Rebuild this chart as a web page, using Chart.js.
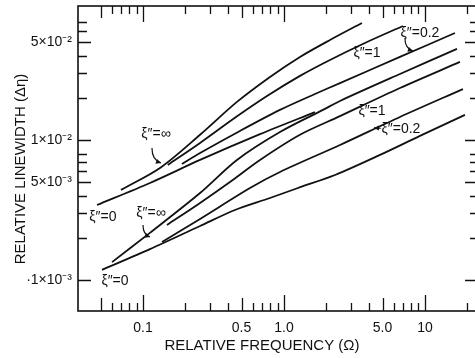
<!DOCTYPE html>
<html><head><meta charset="utf-8">
<script src="https://cdn.jsdelivr.net/npm/chart.js@4/dist/chart.umd.min.js"></script>
<style>html,body{margin:0;padding:0;background:#fff;overflow:hidden}</style>
</head><body>
<canvas id="c" width="480" height="358" style="display:block"></canvas>
<script>
// ---- data (relative frequency Ω, relative linewidth Δη) ----
// upper family
const omegaUpper0   = [0.0472, 0.112, 0.254, 0.676, 1.659];
const widthUpper0   = [0.00343, 0.00493, 0.00720, 0.0110, 0.0158];
const omegaUpperInf = [0.0698, 0.132, 0.254, 0.464, 0.796, 1.299, 2.120, 3.574];
const widthUpperInf = [0.00440, 0.00631, 0.0109, 0.0187, 0.0282, 0.0392, 0.0518, 0.0685];
const omegaUpper1   = [0.150, 0.254, 0.449, 0.758, 1.299, 2.120, 3.753, 6.982];
const widthUpper1   = [0.00663, 0.00952, 0.0144, 0.0206, 0.0287, 0.0373, 0.0493, 0.0652];
const omegaUpper02  = [0.189, 0.254, 0.487, 0.937, 1.659, 2.496, 6.648, 16.32];
const widthUpper02  = [0.00674, 0.00807, 0.0116, 0.0164, 0.0213, 0.0255, 0.0392, 0.0581];
// lower family
const omegaLower0   = [0.0512, 0.112, 0.254, 0.449, 0.796, 1.257, 2.300, 4.797, 9.216, 19.22];
const widthLower0   = [0.00118, 0.00166, 0.00243, 0.00316, 0.00385, 0.00454, 0.00562, 0.00782, 0.0107, 0.0151];
const omegaLower02  = [0.1364, 0.254, 0.574, 0.937, 2.496, 6.648, 18.60];
const widthLower02  = [0.00187, 0.00273, 0.00454, 0.00591, 0.00921, 0.0146, 0.0231];
const omegaLower1   = [0.148, 0.254, 0.414, 0.676, 1.299, 2.496, 6.648, 17.71];
const widthLower1   = [0.00247, 0.00355, 0.00501, 0.00720, 0.0109, 0.0148, 0.0235, 0.0361];
const omegaLowerInf = [0.0603, 0.112, 0.254, 0.464, 0.937, 1.891, 2.496, 6.648, 16.87];
const widthLowerInf = [0.00134, 0.00217, 0.00418, 0.00720, 0.0114, 0.0164, 0.0190, 0.0296, 0.0447];

// ---- axes ----
const xLabelTicks = [0.1, 0.5, 1, 5, 10];
const xTickLabels = ['0.1', '0.5', '1.0', '5.0', '10'];
const xDecadeTicks = [0.1, 1, 10];
const xHalfTicks = [0.05, 0.5, 5];
const xMinorTicks = [0.06, 0.07, 0.08, 0.09, 0.2, 0.3, 0.4, 0.6, 0.7, 0.8, 0.9, 2, 3, 4, 6, 7, 8, 9, 20];
const yLabelTicks = [0.001, 0.005, 0.01, 0.05];
const yTickLabels = ['·1×10⁻³', '5×10⁻³', '1×10⁻²', '5×10⁻²'];
const yMinorTicks = [0.002, 0.003, 0.004, 0.006, 0.007, 0.008, 0.02, 0.03, 0.04, 0.06, 0.07];
const xTitle = 'RELATIVE FREQUENCY (Ω)';
const yTitle = 'RELATIVE LINEWIDTH (Δη)';

// ---- curve labels (text, Ω, Δη) and arrows ----
const labelTexts = ['ξ″=∞', 'ξ″=0', 'ξ″=∞', 'ξ″=0', 'ξ″=1', 'ξ″=0.2', 'ξ″=1', 'ξ″=0.2'];
const labelOmega = [0.1237, 0.0520, 0.1139, 0.0633, 3.88, 9.22, 4.21, 6.76];
const labelWidth = [0.0110, 0.00282, 0.00301, 0.000984, 0.0418, 0.0581, 0.0161, 0.0120];
const arrowFromOmega = [0.1158, 0.100, 7.21, 4.87];
const arrowFromWidth = [0.00877, 0.00247, 0.0535, 0.0121];
const arrowToOmega   = [0.1342, 0.112, 8.22, 4.35];
const arrowToWidth   = [0.00685, 0.00203, 0.0432, 0.0122];

const FONT = '"Liberation Sans", Arial, sans-serif';
const INK = '#111';

const series = [
  [omegaUpper0, widthUpper0], [omegaUpperInf, widthUpperInf], [omegaUpper1, widthUpper1], [omegaUpper02, widthUpper02],
  [omegaLower0, widthLower0], [omegaLower02, widthLower02], [omegaLower1, widthLower1], [omegaLowerInf, widthLowerInf]
];

const frameTicks = {
  id: 'frameTicks',
  afterDatasetsDraw(chart) {
    const {ctx, chartArea: a, scales: {x, y}} = chart;
    ctx.save();
    ctx.strokeStyle = INK;
    ctx.lineWidth = 1.6;
    ctx.strokeRect(a.left, a.top, a.right - a.left, a.bottom - a.top);
    ctx.lineWidth = 1.3;
    const xt = (v, lb, lt) => {
      const p = Math.round(x.getPixelForValue(v)) + 0.5;
      ctx.beginPath();
      ctx.moveTo(p, a.bottom); ctx.lineTo(p, a.bottom - lb);
      ctx.moveTo(p, a.top); ctx.lineTo(p, a.top + lt);
      ctx.stroke();
    };
    xDecadeTicks.forEach(v => xt(v, 16, 16));
    xHalfTicks.forEach(v => xt(v, 13, 12));
    xMinorTicks.forEach(v => xt(v, 8, 8));
    const yt = (v, ll, lr) => {
      const p = Math.round(y.getPixelForValue(v)) + 0.5;
      ctx.beginPath();
      ctx.moveTo(a.left, p); ctx.lineTo(a.left + ll, p);
      ctx.moveTo(a.right, p); ctx.lineTo(a.right - lr, p);
      ctx.stroke();
    };
    yLabelTicks.forEach(v => yt(v, 13, 12));
    yMinorTicks.forEach(v => yt(v, 9, 7));
    ctx.restore();
  }
};

const annotations = {
  id: 'annotations',
  afterDraw(chart) {
    const {ctx, scales: {x, y}} = chart;
    ctx.save();
    ctx.fillStyle = INK;
    ctx.strokeStyle = INK;
    ctx.font = '14px ' + FONT;
    ctx.textAlign = 'center';
    ctx.textBaseline = 'middle';
    labelTexts.forEach((t, i) => {
      ctx.fillText(t, x.getPixelForValue(labelOmega[i]), y.getPixelForValue(labelWidth[i]));
    });
    ctx.lineWidth = 1.2;
    arrowFromOmega.forEach((_, i) => {
      const x0 = x.getPixelForValue(arrowFromOmega[i]), y0 = y.getPixelForValue(arrowFromWidth[i]);
      const x1 = x.getPixelForValue(arrowToOmega[i]), y1 = y.getPixelForValue(arrowToWidth[i]);
      const cx = x0, cy = y0 + (y1 - y0) * 0.8;
      ctx.beginPath();
      ctx.moveTo(x0, y0);
      ctx.quadraticCurveTo(cx, cy, x1, y1);
      ctx.stroke();
      const ang = Math.atan2(y1 - cy, x1 - cx);
      const L = 5, W = 2.5;
      ctx.beginPath();
      ctx.moveTo(x1, y1);
      ctx.lineTo(x1 - L * Math.cos(ang) + W * Math.sin(ang), y1 - L * Math.sin(ang) - W * Math.cos(ang));
      ctx.lineTo(x1 - L * Math.cos(ang) - W * Math.sin(ang), y1 - L * Math.sin(ang) + W * Math.cos(ang));
      ctx.closePath();
      ctx.fill();
    });
    // axis titles
    ctx.font = '15px ' + FONT;
    ctx.textAlign = 'center';
    ctx.textBaseline = 'middle';
    ctx.fillText(xTitle, 262, 346);
    ctx.translate(21, 169);
    ctx.rotate(-Math.PI / 2);
    ctx.fillText(yTitle, 0, 0);
    ctx.restore();
  }
};

const noPad = s => { s.paddingTop = 0; s.paddingBottom = 0; s.paddingLeft = 0; s.paddingRight = 0; };

new Chart(document.getElementById('c'), {
  type: 'line',
  data: {
    datasets: series.map(([xs, ys]) => ({
      data: xs.map((v, i) => ({x: v, y: ys[i]})),
      borderColor: INK,
      borderWidth: 1.8,
      pointRadius: 0,
      tension: 0.3,
      fill: false
    }))
  },
  options: {
    responsive: false,
    animation: false,
    devicePixelRatio: 1,
    layout: {padding: {left: 0, top: 6, right: 3, bottom: 0}},
    plugins: {legend: {display: false}, tooltip: {enabled: false}},
    scales: {
      x: {
        type: 'logarithmic', min: 0.0346, max: 23.4,
        afterFit(s) { s.height = 47; noPad(s); },
        afterBuildTicks(s) { s.ticks = xLabelTicks.map(v => ({value: v})); },
        ticks: {autoSkip: false, maxRotation: 0, padding: 9, color: INK, font: {family: FONT, size: 14},
          callback: (v, i) => xTickLabels[i]},
        grid: {display: false, drawTicks: false, tickLength: 0}, border: {display: false}
      },
      y: {
        type: 'logarithmic', min: 0.000601, max: 0.0906,
        afterFit(s) { s.width = 78; noPad(s); },
        afterBuildTicks(s) { s.ticks = yLabelTicks.map(v => ({value: v})); },
        ticks: {autoSkip: false, padding: 6, color: INK, font: {family: FONT, size: 14},
          callback: (v, i) => yTickLabels[i]},
        grid: {display: false, drawTicks: false, tickLength: 0}, border: {display: false}
      }
    }
  },
  plugins: [frameTicks, annotations]
});
</script>
</body></html>
